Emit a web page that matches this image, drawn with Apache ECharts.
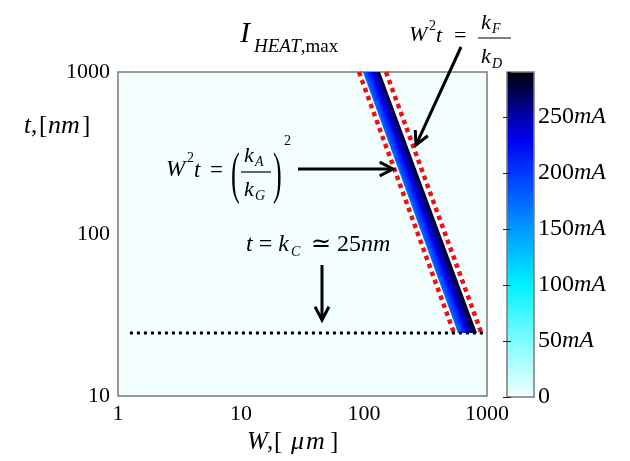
<!DOCTYPE html>
<html><head><meta charset="utf-8">
<script src="https://cdn.jsdelivr.net/npm/echarts/dist/echarts.min.js"></script>
<style>html,body{margin:0;padding:0;background:#fff}#c{width:630px;height:461px}</style>
</head><body><div id="c"></div>
<script>
// ---- data ----
const xRange = [1, 1000];            // W, [um]
const yRange = [10, 1000];           // t, [nm]
const bandT = [1000, 24.5];          // t at top / bottom of the heat band
const bandWLeft = [98, 581];         // band left edge W at those t
const bandWRight = [135, 829];       // band right edge W at those t
const bandValues = [170, 282];       // current (mA) at left / right edge of band
const redT = [1000, 24.5];
const redLeftW = [91, 539];          // W^2 t = (kA/kG)^2
const redRightW = [151, 900];        // W^2 t = kF/kD
const kcT = 24.5;                    // t = kC ~ 25 nm
const kcW = [1.25, 1000];
const cbarTicks = [0, 50, 100, 150, 200, 250];
const cbarMax = 290;
const cmapValues = [0, 50, 100, 150, 200, 230, 250, 290];
const cmapColors = ['#f3ffff', '#80fcff', '#00f2ff', '#0098ff', '#0038ff', '#0000ee', '#0000a8', '#000006'];

const SERIF = 'Liberation Serif, Times New Roman, serif';

function hex2rgb(h){return [parseInt(h.slice(1,3),16),parseInt(h.slice(3,5),16),parseInt(h.slice(5,7),16)];}
function cmapAt(v){
  for(let i=0;i<cmapValues.length-1;i++){
    if(v<=cmapValues[i+1]){
      const f=(v-cmapValues[i])/(cmapValues[i+1]-cmapValues[i]);
      const a=hex2rgb(cmapColors[i]), b=hex2rgb(cmapColors[i+1]);
      return 'rgb('+a.map((c,k)=>Math.round(c+(b[k]-c)*f)).join(',')+')';
    }
  }
  return cmapColors[cmapColors.length-1];
}
function bandStops(){
  const [v0,v1]=bandValues, stops=[{offset:0,color:cmapAt(v0)}];
  cmapValues.forEach((v,i)=>{ if(v>v0 && v<v1) stops.push({offset:(v-v0)/(v1-v0),color:cmapColors[i]}); });
  stops.push({offset:1,color:cmapAt(v1)});
  return stops;
}

const chart = echarts.init(document.getElementById('c'));

function T(x,y,text,size,italic,extra){
  return Object.assign({type:'text', x:x, y:y, z:100,
    style:{text:text, fontFamily:SERIF, fontSize:size, fontStyle:italic?'italic':'normal',
      fill:'#000', verticalAlign:'middle', align:'left'}}, extra||{});
}
function R(x,y,text,size){
  return {type:'text', x:x, y:y, z:100, style:{text:text, fontFamily:SERIF, fontSize:size, fill:'#000',
    verticalAlign:'middle', align:'left',
    rich:{i:{fontFamily:SERIF,fontSize:size,fontStyle:'italic'}, r:{fontFamily:SERIF,fontSize:size}}}};
}
function arrow(x1,y1,x2,y2){
  const ang=Math.atan2(y2-y1,x2-x1), L=15, a=0.48;
  const h1=[x2-L*Math.cos(ang-a), y2-L*Math.sin(ang-a)], h2=[x2-L*Math.cos(ang+a), y2-L*Math.sin(ang+a)];
  return [
    {type:'line', z:100, shape:{x1:x1,y1:y1,x2:x2-1.5*Math.cos(ang),y2:y2-1.5*Math.sin(ang)}, style:{stroke:'#000',lineWidth:3}},
    {type:'polyline', z:100, shape:{points:[h1,[x2,y2],h2]}, style:{stroke:'#000',lineWidth:3,fill:null}}
  ];
}
function bar(x1,x2,y){return {type:'line', z:100, shape:{x1:x1,y1:y,x2:x2,y2:y}, style:{stroke:'#000',lineWidth:1.2}};}

const graphics = [].concat(
  // title
  [T(240,34,'I',30,true), R(254,47,'{i|HEAT}{r|,max}',19)],
  // top-right formula
  [T(409,35,'W',22,true), T(429,26,'2',14,false), T(436,36,'t',22,true), T(454,36,'=',22,false),
   T(481,23,'k',22,true), T(492,29,'F',14,true), bar(478,511,38),
   T(481,57,'k',22,true), T(492,64,'D',14,true)],
  // left formula
  [T(166,170,'W',23,true), T(187,158,'2',14,false), T(194,171,'t',23,true), T(210,171,'=',23,false),
   T(231,177,'(',58,false,{scaleX:0.45}), T(244,156,'k',22,true), T(255,162,'A',14,true), bar(241,271,172),
   T(244,190,'k',22,true), T(255,196,'G',14,true), T(273,177,')',58,false,{scaleX:0.45}), T(284,141,'2',14,false)],
  // kC formula
  [R(246,245,'{i|t}{r| = }{i|k}',24), T(291,252,'C',14,true), R(311,245,'{r|\u2243 25}{i|nm}',24)],
  // x axis name  W,[ um]
  [T(247,442,'W',25,true), T(267,442,',',25,false), T(274,442,'[',25,false),
   T(291,442,'\u03bc',26,true), T(306,442,'m',26,true), T(330,442,']',25,false)],
  // y axis name  t,[nm]
  [T(24,126,'t',25,true), T(31,126,',',25,false), T(39,126,'[',25,false),
   T(48,126,'nm',26,true), T(82,126,']',25,false)],
  arrow(461,47,416,145), arrow(298,169,393,169), arrow(322,265,322,320)
);

const numFmt = v => String(Math.round(v));
const option = {
  animation:false,
  backgroundColor:'#ffffff',
  grid:[
    {left:118, top:72, width:369, height:324, show:true, backgroundColor:cmapColors[0], borderColor:'#7a7a7a', borderWidth:1.5},
    {left:507, top:72, width:27, height:325, show:false}
  ],
  xAxis:[
    {type:'log', logBase:10, min:xRange[0], max:xRange[1], gridIndex:0,
     axisLine:{show:false}, axisTick:{show:false}, splitLine:{show:false}, minorTick:{show:false},
     axisLabel:{fontFamily:SERIF, fontSize:22, color:'#000', margin:7, formatter:numFmt}},
    {type:'value', min:0, max:1, gridIndex:1, show:false}
  ],
  yAxis:[
    {type:'log', logBase:10, min:yRange[0], max:yRange[1], gridIndex:0,
     axisLine:{show:false}, axisTick:{show:false}, splitLine:{show:false},
     axisLabel:{fontFamily:SERIF, fontSize:22, color:'#000', margin:8, formatter:numFmt}},
    {type:'value', min:0, max:cbarMax, interval:50, gridIndex:1, position:'right', z:10,
     axisLine:{show:false}, splitLine:{show:false},
     axisTick:{show:true, inside:true, length:4, lineStyle:{color:'#222', width:1}},
     axisLabel:{margin:4, showMaxLabel:false, color:'#000', fontFamily:SERIF, fontSize:24,
       formatter:function(v){return v===0?'{r|0}':(v>=cbarMax?'':'{r|'+v+'}{i|mA}');},
       rich:{r:{fontFamily:SERIF,fontSize:24,color:'#000'}, i:{fontFamily:SERIF,fontSize:24,fontStyle:'italic',color:'#000'}}}},
    {type:'value', min:0, max:cbarMax, interval:50, gridIndex:1, position:'left', z:10,
     axisLine:{show:false}, splitLine:{show:false}, axisLabel:{show:false},
     axisTick:{show:true, inside:true, length:4, lineStyle:{color:'#222', width:1}}}
  ],
  series:[
    {type:'custom', xAxisIndex:0, yAxisIndex:0, z:2,
     data:[[bandWLeft[0], bandT[0], bandWLeft[1], bandT[1], bandWRight[0], bandWRight[1]]],
     encode:{x:0, y:1},
     renderItem:function(params, api){
       const A=api.coord([api.value(0), api.value(1)]), B=api.coord([api.value(2), api.value(3)]);
       const C=api.coord([api.value(4), api.value(1)]), D=api.coord([api.value(5), api.value(3)]);
       // gradient perpendicular to the band: from left edge to right edge
       const dx=B[0]-A[0], dy=B[1]-A[1], len=Math.hypot(dx,dy);
       const nx=dy/len, ny=-dx/len;
       const w=(C[0]-A[0])*nx+(C[1]-A[1])*ny;
       return {type:'polygon', shape:{points:[A,C,D,B]},
         style:{fill:{type:'linear', x:A[0], y:A[1], x2:A[0]+nx*w, y2:A[1]+ny*w, global:true, colorStops:bandStops()}, stroke:null}};
     }},
    {type:'line', xAxisIndex:0, yAxisIndex:0, z:3, symbol:'none', silent:true,
     data:[[redLeftW[0], redT[0]], [redLeftW[1], redT[1]]],
     lineStyle:{color:'#ee1111', width:4.5, type:[4.5,4], cap:'butt'}},
    {type:'line', xAxisIndex:0, yAxisIndex:0, z:3, symbol:'none', silent:true,
     data:[[redRightW[0], redT[0]], [redRightW[1], redT[1]]],
     lineStyle:{color:'#ee1111', width:4.5, type:[4.5,4], cap:'butt'}},
    {type:'line', xAxisIndex:0, yAxisIndex:0, z:3, symbol:'none', silent:true,
     data:[[kcW[0], kcT], [kcW[1], kcT]],
     lineStyle:{color:'#000', width:3, type:[3,4], cap:'butt'}},
    {type:'custom', xAxisIndex:1, yAxisIndex:1, z:2,
     data:[[0, 0, 1, cbarMax]], encode:{x:[0,2], y:[1,3]},
     renderItem:function(params, api){
       const p0=api.coord([api.value(0), api.value(1)]), p1=api.coord([api.value(2), api.value(3)]);
       const stops=cmapValues.map((v,i)=>({offset:v/cbarMax, color:cmapColors[i]}));
       return {type:'rect', shape:{x:p0[0], y:p1[1], width:p1[0]-p0[0], height:p0[1]-p1[1]},
         style:{fill:{type:'linear', x:0, y:1, x2:0, y2:0, colorStops:stops}, stroke:'#7a7a7a', lineWidth:1.5}};
     }}
  ],
  graphic:{elements:graphics}
};
chart.setOption(option);
</script>
</body></html>
